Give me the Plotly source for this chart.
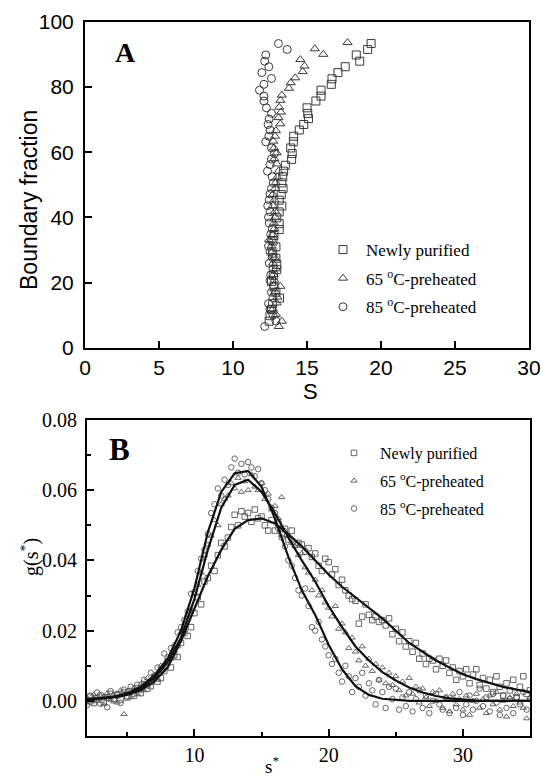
import plotly.graph_objects as go

# ---------------- Panel A : boundary fraction vs S ----------------
newly_S = [12.44, 12.5, 12.6, 12.68, 13.14, 12.9, 12.77, 12.6, 12.72, 12.96, 12.96, 12.9, 12.68,
           12.9, 12.7, 12.77, 13.12, 13.12, 12.96, 13.12, 13.3, 13.12, 13.26, 13.38, 13.3, 13.36,
           13.42, 13.54, 13.96, 14.0, 13.9, 14.08, 14.1, 14.48, 14.78, 15.1, 15.05, 15.0, 15.6,
           15.95, 15.95, 16.64, 16.69, 17.09, 17.58, 18.56, 18.33, 19.1, 19.33]
newly_bf = [8.2, 9.9, 11.8, 13.6, 15.3, 17.1, 18.7, 20.4, 22.3, 24.0, 25.6, 27.5, 29.1,
            31.0, 32.8, 34.5, 36.3, 38.1, 39.9, 41.7, 43.5, 45.3, 47.0, 48.9, 50.6, 52.5,
            54.2, 56.0, 57.8, 59.6, 61.3, 63.2, 64.9, 66.8, 68.5, 70.3, 71.9, 73.6, 75.7,
            77.2, 79.0, 80.8, 82.5, 84.4, 86.2, 87.9, 89.8, 91.5, 93.3]

pre65_S = [13.1, 13.3, 12.9, 12.7, 12.95, 13.0, 12.85, 13.2, 12.8, 12.75, 12.9, 12.7, 12.8,
           12.65, 12.6, 12.44, 12.7, 12.8, 12.75, 12.85, 12.84, 12.7, 12.8, 12.7, 12.85, 12.9,
           13.0, 13.07, 12.96, 12.8, 12.96, 12.77, 12.72, 12.84, 12.9, 13.2, 13.07, 13.24, 13.12,
           13.2, 13.3, 13.78, 13.9, 14.2, 14.71, 14.83, 14.55, 16.1, 15.53, 17.74]
pre65_bf = [6.6, 8.2, 10.3, 12.0, 13.8, 15.6, 17.3, 18.9, 20.8, 22.5, 24.3, 26.0, 27.8,
            29.6, 31.3, 33.2, 34.8, 36.6, 38.3, 40.1, 41.9, 43.6, 45.4, 47.1, 48.9, 50.7,
            52.4, 54.2, 56.4, 58.0, 59.8, 61.3, 63.4, 64.9, 66.6, 68.7, 70.6, 72.3, 73.8,
            75.9, 77.5, 79.6, 81.3, 82.8, 84.7, 86.4, 88.4, 90.0, 91.7, 93.6]

pre85_S = [12.14, 12.9, 12.7, 12.5, 12.4, 12.7, 12.6, 12.75, 12.5, 12.55, 12.7, 12.45, 12.65,
           12.5, 12.4, 12.6, 12.55, 12.65, 12.45, 12.4, 12.5, 12.35, 12.45, 12.5, 12.6, 12.72,
           12.65, 12.33, 12.5, 12.6, 12.8, 12.6, 12.21, 12.42, 12.5, 12.37, 12.44, 12.6, 12.26,
           12.09, 12.09, 11.79, 12.09, 12.6, 11.95, 12.42, 12.14, 12.21, 13.66, 13.07]
pre85_bf = [6.6, 8.3, 10.1, 11.9, 13.6, 15.4, 17.1, 18.9, 20.7, 22.4, 24.2, 26.0, 27.7,
            29.5, 31.2, 33.0, 34.8, 36.5, 38.3, 40.1, 41.8, 43.6, 45.4, 47.2, 48.9, 50.6,
            52.5, 54.2, 56.2, 57.9, 59.6, 61.3, 63.2, 64.9, 66.8, 68.5, 70.2, 71.9, 73.6,
            75.7, 77.2, 79.0, 80.8, 82.6, 84.4, 86.2, 87.9, 89.8, 91.5, 93.3]

# ---------------- Panel B : g(s*) distributions ----------------
s_star = [
    2.00, 2.25, 2.50, 2.75, 3.00, 3.25, 3.50, 3.75, 4.00, 4.25, 4.50, 4.75,
    5.00, 5.25, 5.50, 5.75, 6.00, 6.25, 6.50, 6.75, 7.00, 7.25, 7.50, 7.75,
    8.00, 8.25, 8.50, 8.75, 9.00, 9.25, 9.50, 9.75, 10.00, 10.25, 10.50, 10.75,
    11.00, 11.25, 11.50, 11.75, 12.00, 12.25, 12.50, 12.75, 13.00, 13.25, 13.50, 13.75,
    14.00, 14.25, 14.50, 14.75, 15.00, 15.25, 15.50, 15.75, 16.00, 16.25, 16.50, 16.75,
    17.00, 17.25, 17.50, 17.75, 18.00, 18.25, 18.50, 18.75, 19.00, 19.25, 19.50, 19.75,
    20.00, 20.25, 20.50, 20.75, 21.00, 21.25, 21.50, 21.75, 22.00, 22.25, 22.50, 22.75,
    23.00, 23.25, 23.50, 23.75, 24.00, 24.25, 24.50, 24.75, 25.00, 25.25, 25.50, 25.75,
    26.00, 26.25, 26.50, 26.75, 27.00, 27.25, 27.50, 27.75, 28.00, 28.25, 28.50, 28.75,
    29.00, 29.25, 29.50, 29.75, 30.00, 30.25, 30.50, 30.75, 31.00, 31.25, 31.50, 31.75,
    32.00, 32.25, 32.50, 32.75, 33.00, 33.25, 33.50, 33.75, 34.00, 34.25, 34.50, 34.75,
    35.00]

g_newly = [
    0.0000, 0.0012, -0.0006, 0.0008, 0.0015, -0.0002, 0.0009, 0.0020, 0.0002, 0.0016, 0.0004, 0.0025,
    0.0010, 0.0028, 0.0015, 0.0035, 0.0022, 0.0048, 0.0035, 0.0042, 0.0068, 0.0055, 0.0065, 0.0085,
    0.0110, 0.0095, 0.0130, 0.0125, 0.0165, 0.0195, 0.0185, 0.0210, 0.0250, 0.0295, 0.0275, 0.0340,
    0.0350, 0.0385, 0.0370, 0.0415, 0.0450, 0.0440, 0.0465, 0.0495, 0.0530, 0.0500, 0.0540, 0.0525,
    0.0535, 0.0510, 0.0545, 0.0520, 0.0525, 0.0500, 0.0485, 0.0515, 0.0485, 0.0505, 0.0475, 0.0490,
    0.0460, 0.0485, 0.0445, 0.0450, 0.0445, 0.0425, 0.0435, 0.0410, 0.0420, 0.0385, 0.0370, 0.0405,
    0.0395, 0.0360, 0.0375, 0.0330, 0.0345, 0.0315, 0.0300, 0.0290, 0.0285, 0.0220, 0.0240, 0.0275,
    0.0245, 0.0230, 0.0240, 0.0225, 0.0230, 0.0215, 0.0235, 0.0190, 0.0205, 0.0170, 0.0195, 0.0155,
    0.0170, 0.0140, 0.0165, 0.0120, 0.0135, 0.0105, 0.0120, 0.0115, 0.0090, 0.0120, 0.0100, 0.0115,
    0.0080, 0.0095, 0.0060, 0.0085, 0.0070, 0.0090, 0.0050, 0.0075, 0.0090, 0.0045, 0.0065, 0.0035,
    0.0060, 0.0025, 0.0070, 0.0040, 0.0015, 0.0050, 0.0030, 0.0060, 0.0010, 0.0040, 0.0070, 0.0020,
    0.0030]

g_pre65 = [
    0.0008, -0.0005, 0.0018, 0.0000, 0.0015, -0.0010, 0.0022, 0.0003, 0.0018, -0.0005, 0.0030, -0.0038,
    0.0028, 0.0010, 0.0038, 0.0020, 0.0048, 0.0030, 0.0065, 0.0050, 0.0075, 0.0060, 0.0100, 0.0095,
    0.0125, 0.0120, 0.0160, 0.0155, 0.0195, 0.0200, 0.0245, 0.0260, 0.0305, 0.0330, 0.0365, 0.0415,
    0.0445, 0.0470, 0.0515, 0.0500, 0.0560, 0.0575, 0.0585, 0.0620, 0.0605, 0.0635, 0.0595, 0.0625,
    0.0600, 0.0645, 0.0610, 0.0600, 0.0620, 0.0575, 0.0590, 0.0545, 0.0555, 0.0520, 0.0580, 0.0485,
    0.0470, 0.0450, 0.0440, 0.0415, 0.0420, 0.0380, 0.0365, 0.0315, 0.0345, 0.0300, 0.0315, 0.0280,
    0.0265, 0.0240, 0.0270, 0.0205, 0.0220, 0.0195, 0.0150, 0.0180, 0.0140, 0.0115, 0.0155, 0.0100,
    0.0120, 0.0085, 0.0105, 0.0060, 0.0095, 0.0050, 0.0080, 0.0045, 0.0070, 0.0030, 0.0055, 0.0015,
    0.0065, 0.0020, 0.0040, -0.0005, 0.0035, 0.0010, -0.0015, 0.0025, 0.0000, 0.0030, -0.0020, 0.0010,
    -0.0030, 0.0020, -0.0010, 0.0005, -0.0025, 0.0015, -0.0040, 0.0000, 0.0020, -0.0020, 0.0005, -0.0035,
    0.0015, -0.0010, 0.0025, -0.0025, 0.0000, -0.0045, 0.0010, -0.0015, 0.0020, -0.0005, -0.0020, -0.0050,
    0.0010]

g_pre85 = [
    -0.0012, 0.0015, 0.0002, 0.0024, -0.0008, 0.0010, -0.0018, 0.0028, 0.0005, 0.0020, -0.0006, 0.0032,
    0.0012, 0.0040, 0.0020, 0.0046, 0.0032, 0.0060, 0.0044, 0.0080, 0.0065, 0.0095, 0.0088, 0.0135,
    0.0112, 0.0150, 0.0142, 0.0195, 0.0210, 0.0230, 0.0255, 0.0305, 0.0310, 0.0370, 0.0405, 0.0430,
    0.0475, 0.0535, 0.0560, 0.0605, 0.0585, 0.0630, 0.0615, 0.0665, 0.0690, 0.0650, 0.0675, 0.0645,
    0.0680, 0.0665, 0.0640, 0.0660, 0.0620, 0.0600, 0.0575, 0.0550, 0.0535, 0.0490, 0.0465, 0.0440,
    0.0400, 0.0385, 0.0350, 0.0315, 0.0300, 0.0320, 0.0270, 0.0210, 0.0200, 0.0225, 0.0175, 0.0155,
    0.0130, 0.0105, 0.0120, 0.0080, 0.0055, 0.0100, 0.0070, 0.0025, 0.0065, 0.0040, 0.0080, 0.0015,
    0.0050, 0.0030, -0.0010, 0.0060, 0.0025, -0.0020, 0.0040, 0.0005, 0.0035, -0.0025, 0.0010, -0.0015,
    0.0025, -0.0030, 0.0005, 0.0030, -0.0020, 0.0015, -0.0035, 0.0000, 0.0020, -0.0010, -0.0025, 0.0010,
    -0.0035, 0.0005, -0.0020, 0.0025, -0.0040, -0.0010, 0.0015, -0.0025, 0.0000, 0.0035, -0.0015, 0.0010,
    -0.0030, 0.0020, -0.0005, -0.0040, 0.0015, -0.0020, 0.0005, -0.0035, 0.0010, -0.0010, 0.0025, -0.0025,
    0.0005]

# fitted curves
fit_s = [2, 3, 4, 5, 6, 7, 8, 9, 10, 11, 12, 13, 14, 15, 16, 17, 18,
         19, 20, 21, 22, 23, 24, 25, 26, 27, 28, 29, 30, 31, 32, 33, 34, 35]
fit_newly = [0.0004, 0.0006, 0.0010, 0.0017, 0.0030, 0.0055, 0.0095, 0.0170, 0.0260, 0.0355, 0.0430,
             0.0490, 0.0515, 0.0520, 0.0505, 0.0475, 0.0440, 0.0400, 0.0360, 0.0325, 0.0295, 0.0265,
             0.0235, 0.0200, 0.0165, 0.0140, 0.0115, 0.0095, 0.0076, 0.0062, 0.0050, 0.0040, 0.0032, 0.0025]
fit_pre65 = [0.0005, 0.0007, 0.0011, 0.0020, 0.0036, 0.0064, 0.0110, 0.0180, 0.0290, 0.0430, 0.0550,
             0.0615, 0.0630, 0.0595, 0.0535, 0.0465, 0.0400, 0.0340, 0.0270, 0.0210, 0.0155, 0.0115,
             0.0082, 0.0058, 0.0038, 0.0024, 0.0014, 0.0007, 0.0003, 0.0001, 0.0000, 0.0000, 0.0000, 0.0000]
fit_pre85 = [0.0005, 0.0007, 0.0012, 0.0022, 0.0040, 0.0072, 0.0120, 0.0200, 0.0320, 0.0480, 0.0595,
             0.0648, 0.0655, 0.0610, 0.0520, 0.0410, 0.0315, 0.0245, 0.0160, 0.0090, 0.0042, 0.0017,
             0.0006, 0.0002, 0.0000, 0.0000, 0.0000, 0.0000, 0.0000, 0.0000, 0.0000, 0.0000, 0.0000, 0.0000]

series_names = ["Newly purified", "65 <sup>o</sup>C-preheated", "85 <sup>o</sup>C-preheated"]
symbols = ["square-open", "triangle-up-open", "circle-open"]

W, H = 541, 777
def PX(x): return x / W
def PY(y): return 1 - y / H

SERIF = "Liberation Serif"
SANS = "Liberation Sans"

fig = go.Figure()

# Panel A scatter
for i, (xs, ys) in enumerate([(newly_S, newly_bf), (pre65_S, pre65_bf), (pre85_S, pre85_bf)]):
    fig.add_trace(go.Scatter(
        x=xs, y=ys, mode="markers", name=series_names[i],
        marker=dict(symbol=symbols[i], size=8, color="#3a3a3a", line=dict(width=1)),
        xaxis="x", yaxis="y", legend="legend", legendgroup="a%d" % i))

# Panel B scatter
for i, gs in enumerate([g_newly, g_pre65, g_pre85]):
    fig.add_trace(go.Scatter(
        x=s_star, y=gs, mode="markers", name=series_names[i],
        marker=dict(symbol=symbols[i], size=5.5, color="#555555", line=dict(width=0.9)),
        xaxis="x2", yaxis="y2", legend="legend2", legendgroup="b%d" % i))

# Panel B fit lines
for fy in [fit_newly, fit_pre65, fit_pre85]:
    fig.add_trace(go.Scatter(
        x=fit_s, y=fy, mode="lines", line=dict(color="#111111", width=2.2),
        showlegend=False, xaxis="x2", yaxis="y2", hoverinfo="skip"))

axis_common = dict(showline=True, linewidth=2, linecolor="black", mirror=True, automargin=False,
                   showgrid=False, zeroline=False, ticks="inside", tickcolor="black")

def ann(text, x, y, size, family, angle=0):
    return dict(text=text, x=PX(x), y=PY(y), xref="paper", yref="paper", showarrow=False,
                xanchor="center", yanchor="middle", textangle=angle,
                font=dict(family=family, size=size, color="black"))

fig.update_layout(
    width=W, height=H,
    margin=dict(l=0, r=0, t=0, b=0, autoexpand=False),
    paper_bgcolor="white", plot_bgcolor="white",
    font=dict(family=SERIF, color="black"),
    xaxis=dict(domain=[PX(85), PX(529)], range=[0, 30], dtick=5, tick0=0,
               ticklen=7, tickwidth=1.5, anchor="y",
               tickfont=dict(family=SANS, size=21, color="black"), ticklabelstandoff=0,
               **axis_common),
    yaxis=dict(domain=[PY(348), PY(21.7)], range=[0, 100], dtick=20, tick0=0,
               ticklen=7, tickwidth=1.5, anchor="x",
               tickfont=dict(family=SANS, size=21, color="black"), ticklabelstandoff=5,
               **axis_common),
    xaxis2=dict(domain=[PX(87), PX(530)], range=[2, 35], tickvals=[10, 20, 30],
                ticklen=7, tickwidth=1.5, anchor="y2",
                minor=dict(tickvals=[5, 15, 25], ticks="inside", ticklen=4, tickwidth=1.5, tickcolor="black"),
                tickfont=dict(family=SERIF, size=20, color="black"), ticklabelstandoff=0,
                **axis_common),
    yaxis2=dict(domain=[PY(736), PY(420)], range=[-0.01, 0.08],
                tickvals=[0.0, 0.02, 0.04, 0.06, 0.08], tickformat=".2f",
                ticklen=7, tickwidth=1.5, anchor="x2",
                minor=dict(tickvals=[0.01, 0.03, 0.05, 0.07], ticks="inside", ticklen=4, tickwidth=1.5, tickcolor="black"),
                tickfont=dict(family=SERIF, size=20, color="black"), ticklabelstandoff=4,
                **axis_common),
    legend=dict(x=PX(320), y=PY(232), xanchor="left", yanchor="top", itemwidth=36,
                bgcolor="rgba(0,0,0,0)", traceorder="grouped", tracegroupgap=3.5,
                font=dict(family=SERIF, size=17, color="black")),
    legend2=dict(x=PX(328), y=PY(436), xanchor="left", yanchor="top", itemwidth=42,
                 bgcolor="rgba(0,0,0,0)", traceorder="grouped", tracegroupgap=4,
                 font=dict(family=SERIF, size=16, color="black")),
    annotations=[
        ann("<b>A</b>", 125, 52, 28, SERIF),
        ann("<b>B</b>", 119, 450, 31, SERIF),
        ann("Boundary fraction", 29, 200, 23, SANS, -90),
        ann("S", 310, 391, 22, SANS),
        ann("g(s<sup>*</sup>)", 30, 557, 20, SERIF, -90),
        ann("s<sup>*</sup>", 272, 765, 19, SERIF),
    ],
)

fig.write_html("out.html", config={"displayModeBar": False},
               post_script="document.body.style.margin='0';document.body.style.overflow='hidden';")
